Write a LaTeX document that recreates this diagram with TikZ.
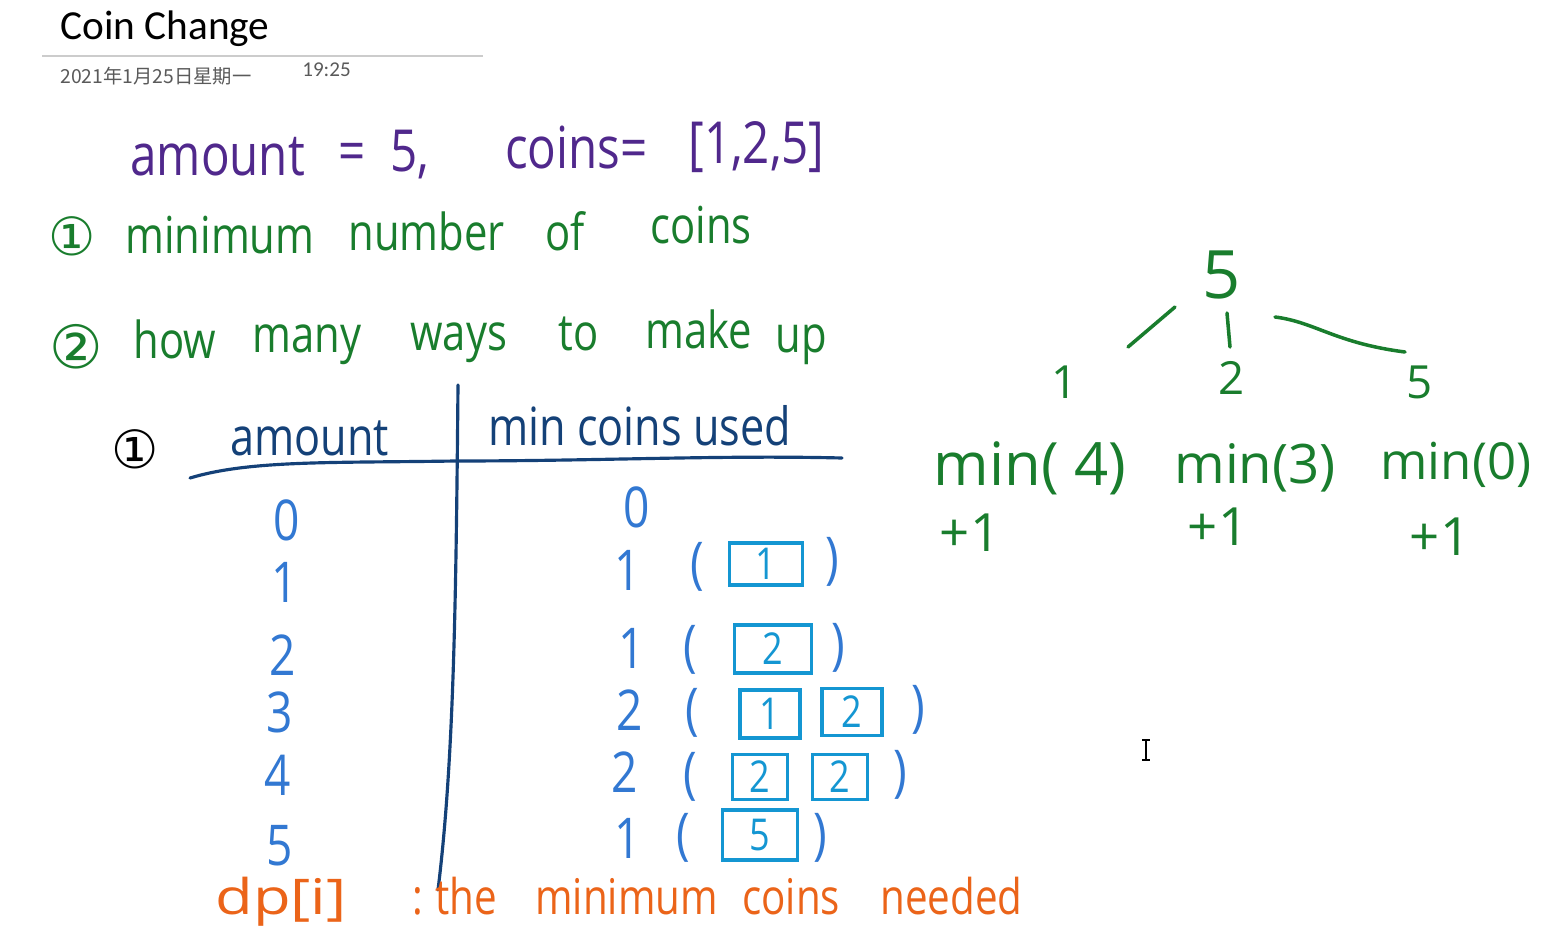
\documentclass[tikz,border=0pt]{standalone}
\usepackage{fontspec}
\setmainfont{Open Sans}
\newfontfamily\hwfont[FakeStretch=0.82]{Open Sans}
\newfontfamily\hwwide{Open Sans}
\newfontfamily\hwxwide[FakeStretch=1.25]{Open Sans}
\newfontfamily\titlefont{Carlito}
\newfontfamily\cjkfont{Noto Sans CJK SC}
\newfontfamily\symfont{DejaVu Sans}
\definecolor{pur}{RGB}{80,40,140}
\definecolor{grn}{RGB}{25,125,45}
\definecolor{navy}{RGB}{20,65,120}
\definecolor{blu}{RGB}{50,120,210}
\definecolor{cyn}{RGB}{20,150,210}
\definecolor{org}{RGB}{235,100,25}
\definecolor{dgray}{RGB}{90,90,90}
\begin{document}
\begin{tikzpicture}[x=0.02cm,y=-0.02cm]
\tikzset{
  w/.style={inner sep=0pt, anchor=base west},
  pl/.style={w, text=pur, font=\hwfont\fontsize{33}{35}\selectfont},
  gr/.style={w, text=grn, font=\hwfont\fontsize{29}{31}\selectfont},
  nv/.style={w, text=navy, font=\hwfont\fontsize{30}{32}\selectfont},
  num/.style={inner sep=0pt, text=blu, font=\hwfont\fontsize{32}{34}\selectfont},
  coin/.style={draw=cyn, line width=1.8pt, text=cyn, inner sep=0pt, font=\hwfont\fontsize{25}{27}\selectfont},
  tr/.style={inner sep=0pt, text=grn, font=\hwwide\fontsize{34}{36}\selectfont},
  og/.style={w, text=org, font=\hwfont\fontsize{28}{30}\selectfont},
  circ/.style={inner sep=0pt, font=\symfont\fontsize{30}{32}\selectfont},
  grline/.style={draw=grn, line width=2pt, line cap=round},
  tabline/.style={draw=navy, line width=1.8pt, line cap=round},
}
\useasboundingbox (0,0) rectangle (1565,926);
\clip (0,0) rectangle (1565,926);
\fill[white] (0,0) rectangle (1565,926);

% header
\node[w, font=\titlefont\fontsize{23.5}{26}\selectfont] (title) at (60,40) {Coin Change};
\coordinate (rulea) at (42,56);
\coordinate (ruleb) at (483,56);
\draw[black!20, line width=0.6pt] (rulea) -- (ruleb);
\node[w, text=dgray, font=\cjkfont\fontsize{11}{13}\selectfont] (date) at (60,84) {2021年1月25日星期一};
\node[w, text=dgray, font=\titlefont\fontsize{12}{14}\selectfont] (time) at (302,77) {19:25};

% purple line
\node[pl] (p1) at (130,175) {amount};
\node[pl] (p2) at (338,172) {=};
\node[pl] (p3) at (390,172) {5,};
\node[pl] (p4) at (505,168) {coins=};
\node[pl] (p5) at (688,163) {[1,2,5]};

% green line 1
\node[circ, text=grn] (g0) at (72,236) {①};
\node[gr] (g1) at (125,253) {minimum};
\node[gr] (g2) at (348,250) {number};
\node[gr] (g3) at (545,250) {of};
\node[gr] (g4) at (650,243) {coins};

% green line 2
\node[circ, text=grn, font=\symfont\fontsize{34}{36}\selectfont] (h0) at (76,347) {②};
\node[gr] (h1) at (133,358) {how};
\node[gr] (h2) at (252,352) {many};
\node[gr] (h3) at (410,350) {ways};
\node[gr] (h4) at (558,350) {to};
\node[gr] (h5) at (645,348) {make};
\node[gr] (h6) at (775,352) {up};

% table
\node[circ, text=black] (t0) at (135,449) {①};
\node[nv] (th1) at (230,455) {amount};
\node[nv] (th2) at (488,445) {min coins used};
\coordinate (hl0) at (190,478);
\coordinate (hl1) at (455,461);
\coordinate (hl2) at (842,458);
\draw[tabline] (hl0) .. controls (250,460) and (330,463) .. (hl1) .. controls (600,461) and (720,455) .. (hl2);
\coordinate (vl0) at (458,385);
\coordinate (vl1) at (438,890);
\draw[tabline] (vl0) .. controls (456,600) and (454,760) .. (vl1);

% left column
\node[num] (a0) at (287,520) {0};
\node[num] (a1) at (285,582) {1};
\node[num] (a2) at (283,655) {2};
\node[num] (a3) at (280,712) {3};
\node[num] (a4) at (278,775) {4};
\node[num] (a5) at (280,846) {5};

% right column
\node[num] (b0) at (637,507) {0};
\node[num] (b1) at (628,570) {1};
\node[num] (b1l) at (697,567) {(};
\node[coin, minimum width=1.46cm, minimum height=0.84cm] (c1) at (766,564) {1};
\node[num] (b1r) at (832,562) {)};

\node[num] (b2) at (632,648) {1};
\node[num] (b2l) at (690,650) {(};
\node[coin, minimum width=1.54cm, minimum height=0.96cm] (c2) at (773,649) {2};
\node[num] (b2r) at (838,648) {)};

\node[num] (b3) at (630,710) {2};
\node[num] (b3l) at (692,713) {(};
\node[coin, minimum width=1.2cm, minimum height=0.96cm] (c3a) at (770,714) {1};
\node[coin, minimum width=1.2cm, minimum height=0.94cm] (c3b) at (852,712) {2};
\node[num] (b3r) at (918,710) {)};

\node[num] (b4) at (625,772) {2};
\node[num] (b4l) at (690,777) {(};
\node[coin, minimum width=1.1cm, minimum height=0.9cm] (c4a) at (760,777) {2};
\node[coin, minimum width=1.1cm, minimum height=0.9cm] (c4b) at (840,777) {2};
\node[num] (b4r) at (900,775) {)};

\node[num] (b5) at (628,838) {1};
\node[num] (b5l) at (683,838) {(};
\node[coin, minimum width=1.5cm, minimum height=1.0cm] (c5) at (760,835) {5};
\node[num] (b5r) at (820,838) {)};

% orange line
\node[og, font=\hwxwide\fontsize{28}{30}\selectfont] (o1) at (215,914) {dp[i]};
\node[og] (o2) at (412,914) {:};
\node[og] (o3) at (435,914) {the};
\node[og] (o4) at (535,914) {minimum};
\node[og] (o5) at (742,914) {coins};
\node[og] (o6) at (880,914) {needed};

% tree
\node[tr, font=\hwwide\fontsize{38}{40}\selectfont] (root) at (1222,275) {5};
\node[tr, font=\hwwide\fontsize{26}{28}\selectfont] (k1) at (1065,382) {1};
\node[tr, font=\hwwide\fontsize{26}{28}\selectfont] (k2) at (1232,378) {2};
\node[tr, font=\hwwide\fontsize{26}{28}\selectfont] (k3) at (1420,382) {5};
\coordinate (e1a) at (1175,307);
\coordinate (e1b) at (1128,347);
\coordinate (e2a) at (1227,313);
\coordinate (e2b) at (1230,347);
\coordinate (e3a) at (1275,317);
\coordinate (e3b) at (1405,352);
\draw[grline] (e1a) -- (e1b);
\draw[grline] (e2a) -- (e2b);
\draw[grline] (e3a) .. controls (1315,322) and (1335,343) .. (e3b);
\node[tr] (m1) at (1030,468) {min( 4)};
\node[tr, font=\hwwide\fontsize{31}{33}\selectfont] (m2) at (1255,468) {min(3)};
\node[tr, font=\hwwide\fontsize{29}{31}\selectfont] (m3) at (1456,465) {min(0)};
\node[tr, font=\hwwide\fontsize{30}{32}\selectfont] (q1) at (970,533) {+1};
\node[tr, font=\hwwide\fontsize{30}{32}\selectfont] (q2) at (1218,527) {+1};
\node[tr, font=\hwwide\fontsize{30}{32}\selectfont] (q3) at (1440,537) {+1};

% text cursor
\coordinate (cur0) at (1146,740);
\coordinate (cur1) at (1146,760);
\draw[black, line width=0.7pt] (cur0) -- (cur1);
\draw[black, line width=0.7pt] (1142,740) -- (1150,740) (1142,760) -- (1150,760);
\end{tikzpicture}
\end{document}
